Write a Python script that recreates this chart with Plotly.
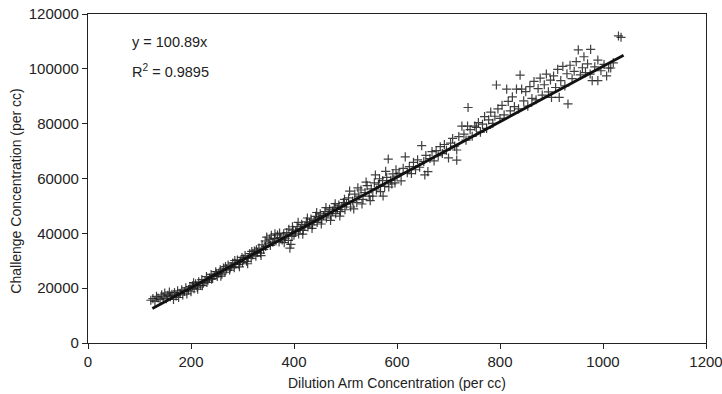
import plotly.graph_objects as go

# Dilution arm concentration (per cc) and challenge concentration (per cc)
dilution = [
    122,126,130,133,136,140,143,146,149,152,155,158,160,163,166,168,171,174,176,179,182,184,187,190,192,195,198,200,
    203,206,209,212,215,218,221,224,227,230,233,236,239,242,245,248,251,254,257,260,263,266,269,272,275,278,281,284,287,290,293,296,299,
    205,213,222,231,240,249,258,267,276,285,294,300,
    302,305,308,311,314,317,320,323,326,329,332,335,338,341,344,347,350,353,356,359,362,365,368,371,374,377,380,383,386,389,392,394,396,398,400,
    310,318,327,336,345,354,363,372,381,390,397,
    403,406,409,412,415,418,421,424,427,430,433,436,439,442,445,448,451,454,457,460,463,466,469,472,475,478,481,484,487,490,493,496,499,
    408,417,426,435,444,453,462,471,480,489,498,
    502,506,510,514,518,522,526,530,534,538,542,546,550,553,556,560,564,568,572,573,576,580,583,584,588,592,596,600,
    508,516,524,532,540,548,558,566,578,590,598,
    604,608,612,616,620,624,628,632,636,640,644,648,652,654,656,660,664,668,672,676,680,684,688,692,696,700,
    704,708,712,716,716,720,726,730,734,737,738,742,746,751,754,758,762,766,770,774,778,782,786,790,793,796,800,
    804,808,813,816,820,824,828,832,836,839,842,846,850,854,858,862,866,870,874,878,882,886,890,894,898,900,
    904,908,912,915,918,922,926,930,932,936,940,944,948,952,956,960,963,966,970,975,976,979,984,990,990,996,1002,1007,1011,1015,1020,1030,1035,
]
challenge = [
    15600,16200,15200,17000,16400,15800,17600,16800,18200,16200,17400,18600,16900,17800,15900,18400,17200,19000,16600,18100,19400,17500,18800,20100,17900,19300,20600,18700,
    20900,19800,21600,20400,22300,21000,23100,21800,22600,24200,22900,23700,25000,23500,24600,26000,24300,25400,26700,25100,27300,25800,27000,28400,26600,27900,29200,27500,28800,30300,28700,29900,31200,
    22000,19600,20900,22100,23300,25200,24400,27900,27400,30100,27800,29400,
    30600,31900,29800,31200,32600,30900,32100,33500,31700,33000,34600,32800,35800,34100,37200,38600,36400,37900,39300,36800,38100,37200,39400,36900,38400,37600,39800,38200,40300,37400,34600,36000,38900,41200,39300,
    28900,33400,34000,31900,35200,35600,39800,40100,36600,41500,42400,
    40600,42400,39800,41700,43300,41100,42600,44200,42300,43800,45200,43100,44600,46200,44000,45700,47100,44900,46500,47900,45600,47300,48800,46400,48100,49500,47200,48800,50300,47900,49700,51200,48600,
    44000,39700,45600,41800,47600,43400,49400,44700,50800,46300,52400,
    50600,52900,49600,51800,54300,51200,53600,55800,52400,54900,57400,53600,56200,53600,58400,55800,57900,55200,59200,53600,57100,60400,67100,56900,59300,61700,58400,60900,
    55400,48900,56600,50700,58700,51900,61300,59900,62600,58000,63200,
    61900,59100,63700,67900,62100,64300,61800,65900,63200,66800,64100,72000,66200,61300,68400,62500,67300,69800,66400,70200,68300,71600,69100,72400,70300,67500,
    72900,74600,71800,70400,66700,75300,79100,76200,74000,79100,85900,77800,75400,79100,78600,80400,76900,79800,82600,78300,81400,84200,80100,82700,94100,85400,81900,
    86700,83200,92600,88100,84700,89800,86200,92600,85400,97700,92600,88300,91700,86400,93500,89200,95400,88700,92800,96600,90400,94200,98100,91600,95900,89600,
    97400,93200,99800,89600,95700,100900,93800,98200,87200,101300,96400,99100,102600,106900,97800,100400,104400,98600,101800,98100,107100,95700,100700,95700,103200,99300,101600,97400,100300,100300,102200,112000,111500,
]

# Trendline y = 100.89x over the data range
slope = 100.89
line_x = [125, 1040]
line_y = [slope * v for v in line_x]

x_ticks = [0, 200, 400, 600, 800, 1000, 1200]
y_ticks = [0, 20000, 40000, 60000, 80000, 100000, 120000]

font = "Liberation Sans, Arial, sans-serif"

fig = go.Figure()
fig.add_trace(go.Scatter(
    x=dilution, y=challenge, mode="markers",
    marker=dict(symbol="cross-thin", size=6.5, line=dict(width=1.2, color="rgba(30,30,30,0.85)")),
    showlegend=False, hoverinfo="skip",
))
fig.add_trace(go.Scatter(
    x=line_x, y=line_y, mode="lines",
    line=dict(color="#111", width=2.8), showlegend=False, hoverinfo="skip",
))

axis_common = dict(
    showgrid=False, zeroline=False, showline=True, linecolor="#222", linewidth=1.3,
    mirror=True, ticks="outside", ticklen=5, tickwidth=1, tickcolor="#222",
    tickfont=dict(family=font, size=15, color="#222"), ticklabeloverflow="allow",
    automargin=False,
)
fig.update_xaxes(range=[0, 1200], tickvals=x_ticks, ticktext=[str(v) for v in x_ticks], **axis_common)
fig.update_yaxes(range=[0, 120000], tickvals=y_ticks, ticktext=[str(v) for v in y_ticks], **axis_common)

fig.update_layout(
    width=722, height=394,
    margin=dict(l=88, r=16, t=14, b=51, autoexpand=False),
    paper_bgcolor="white", plot_bgcolor="white",
    font=dict(family=font, color="#222"),
    annotations=[
        dict(text="y = 100.89x", xref="paper", yref="paper", x=0.068, y=0.915,
             xanchor="left", yanchor="middle", showarrow=False, font=dict(size=14.5)),
        dict(text="R<sup>2</sup> = 0.9895", xref="paper", yref="paper", x=0.068, y=0.826,
             xanchor="left", yanchor="middle", showarrow=False, font=dict(size=14.5)),
        dict(text="Dilution Arm Concentration (per cc)", xref="paper", yref="paper", x=0.5, y=0,
             yshift=-40, xanchor="center", yanchor="middle", showarrow=False, font=dict(size=14)),
        dict(text="Challenge Concentration (per cc)", xref="paper", yref="paper", x=0, y=0.46,
             xshift=-72, xanchor="center", yanchor="middle", textangle=-90, showarrow=False,
             font=dict(size=14)),
    ],
)

fig.write_html("out.html", config={"displayModeBar": False})

# remove default page margin so the 722x394 figure fills the window exactly
with open("out.html", "r", encoding="utf-8") as f:
    html = f.read()
html = html.replace("<head>", "<head><style>html,body{margin:0;padding:0;overflow:hidden;}</style>", 1)
with open("out.html", "w", encoding="utf-8") as f:
    f.write(html)
